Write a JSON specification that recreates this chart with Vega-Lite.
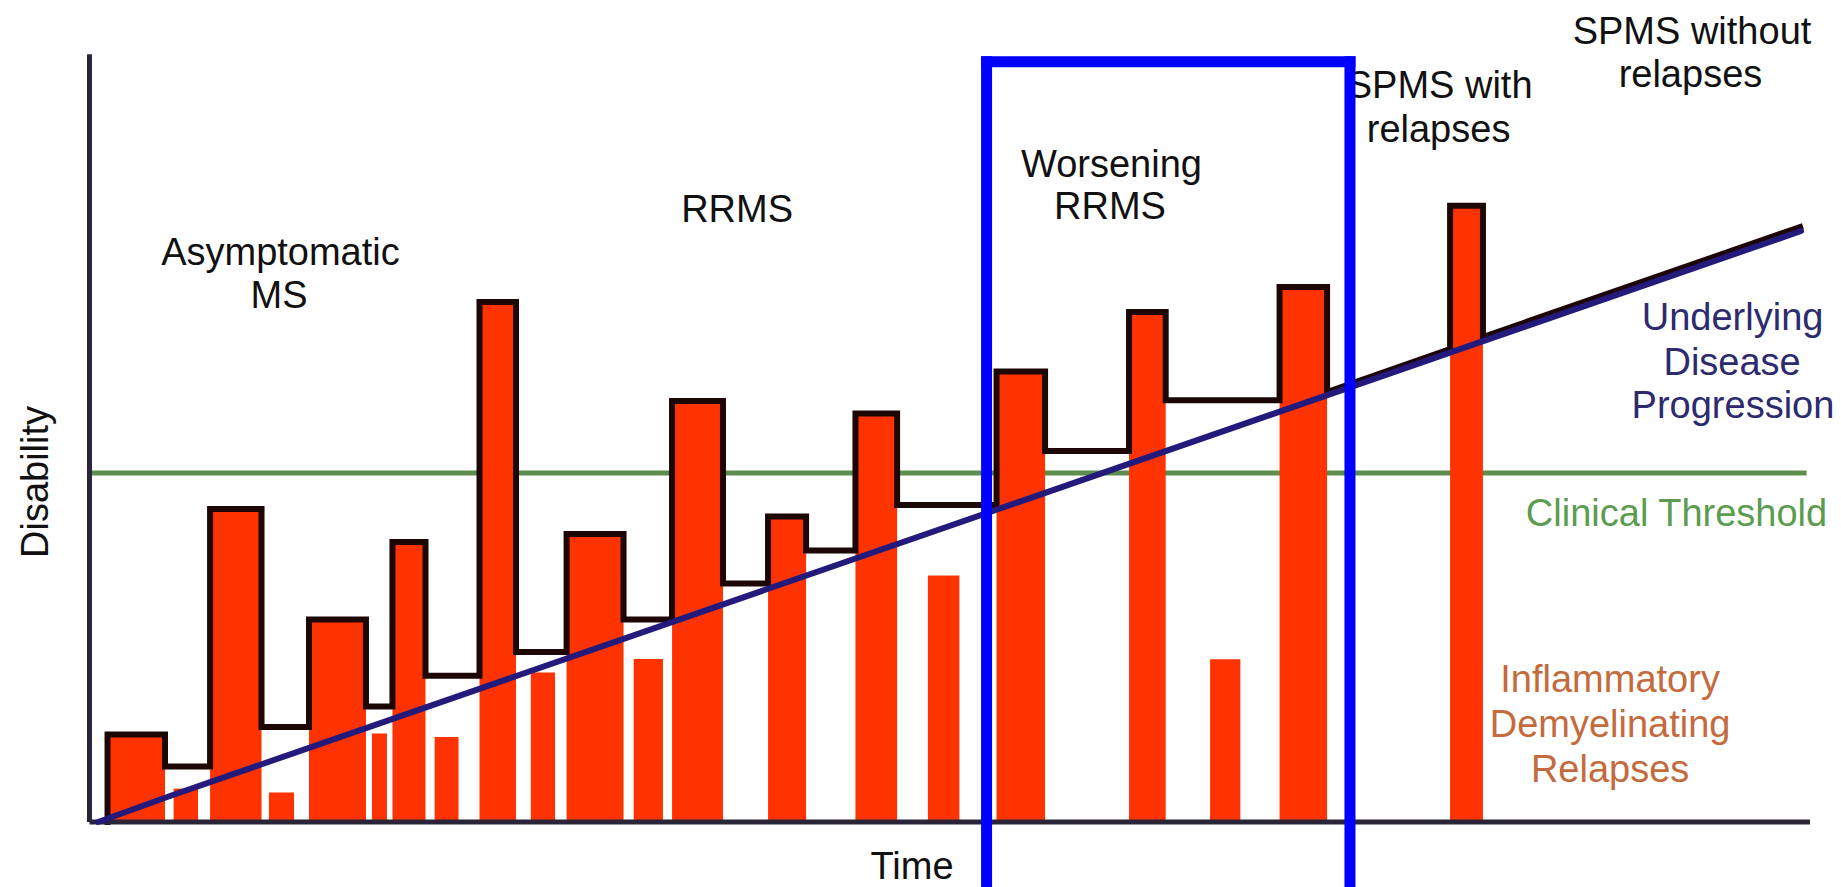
{
  "$schema": "https://vega.github.io/schema/vega-lite/v6.json",
  "width": 1841,
  "height": 887,
  "autosize": {"type": "none"},
  "padding": 0,
  "background": "white",
  "config": {"view": {"stroke": null}},
  "datasets": {
    "threshold": [{"t": 0.1, "t2": 99.8, "d": 45.64}],
    "relapses": [
      {"bar": "A", "t": 1.05, "t2": 4.39, "d": 11.44},
      {"bar": "a1", "t": 4.89, "t2": 6.31, "d": 4.37},
      {"bar": "B", "t": 7.01, "t2": 10.0, "d": 40.93},
      {"bar": "b1", "t": 10.43, "t2": 11.89, "d": 3.86},
      {"bar": "C", "t": 12.76, "t2": 16.07, "d": 26.48},
      {"bar": "c1", "t": 16.42, "t2": 17.29, "d": 11.56},
      {"bar": "D", "t": 17.61, "t2": 19.53, "d": 36.62},
      {"bar": "d1", "t": 20.06, "t2": 21.45, "d": 11.12},
      {"bar": "E", "t": 22.67, "t2": 24.79, "d": 68.0},
      {"bar": "e1", "t": 25.65, "t2": 27.06, "d": 19.55},
      {"bar": "F", "t": 27.73, "t2": 31.04, "d": 37.67},
      {"bar": "f1", "t": 31.63, "t2": 33.33, "d": 21.32},
      {"bar": "G", "t": 33.86, "t2": 36.82, "d": 55.06},
      {"bar": "H", "t": 39.44, "t2": 41.65, "d": 39.95},
      {"bar": "I", "t": 44.52, "t2": 46.94, "d": 53.42},
      {"bar": "i1", "t": 48.73, "t2": 50.56, "d": 32.25},
      {"bar": "J", "t": 52.72, "t2": 55.54, "d": 58.92},
      {"bar": "K", "t": 60.42, "t2": 62.55, "d": 66.7},
      {"bar": "k1", "t": 65.13, "t2": 66.89, "d": 21.28},
      {"bar": "L", "t": 69.17, "t2": 71.93, "d": 69.97},
      {"bar": "M", "t": 79.08, "t2": 80.99, "d": 80.6}
    ],
    "outline": [
      {"i": 1, "t": 1.05, "d": 0},
      {"i": 2, "t": 1.05, "d": 11.44},
      {"i": 3, "t": 4.39, "d": 11.44},
      {"i": 4, "t": 4.39, "d": 7.27},
      {"i": 5, "t": 7.01, "d": 7.27},
      {"i": 6, "t": 7.01, "d": 40.93},
      {"i": 7, "t": 10.0, "d": 40.93},
      {"i": 8, "t": 10.0, "d": 12.42},
      {"i": 9, "t": 12.76, "d": 12.42},
      {"i": 10, "t": 12.76, "d": 26.48},
      {"i": 11, "t": 16.07, "d": 26.48},
      {"i": 12, "t": 16.07, "d": 15.12},
      {"i": 13, "t": 17.61, "d": 15.12},
      {"i": 14, "t": 17.61, "d": 36.62},
      {"i": 15, "t": 19.53, "d": 36.62},
      {"i": 16, "t": 19.53, "d": 19.13},
      {"i": 17, "t": 22.67, "d": 19.13},
      {"i": 18, "t": 22.67, "d": 68.0},
      {"i": 19, "t": 24.79, "d": 68.0},
      {"i": 20, "t": 24.79, "d": 22.23},
      {"i": 21, "t": 27.73, "d": 22.23},
      {"i": 22, "t": 27.73, "d": 37.67},
      {"i": 23, "t": 31.04, "d": 37.67},
      {"i": 24, "t": 31.04, "d": 26.48},
      {"i": 25, "t": 33.86, "d": 26.48},
      {"i": 26, "t": 33.86, "d": 55.06},
      {"i": 27, "t": 36.82, "d": 55.06},
      {"i": 28, "t": 36.82, "d": 31.18},
      {"i": 29, "t": 39.44, "d": 31.18},
      {"i": 30, "t": 39.44, "d": 39.95},
      {"i": 31, "t": 41.65, "d": 39.95},
      {"i": 32, "t": 41.65, "d": 35.52},
      {"i": 33, "t": 44.52, "d": 35.52},
      {"i": 34, "t": 44.52, "d": 53.42},
      {"i": 35, "t": 46.94, "d": 53.42},
      {"i": 36, "t": 46.94, "d": 41.46},
      {"i": 37, "t": 52.72, "d": 41.46},
      {"i": 38, "t": 52.72, "d": 58.92},
      {"i": 39, "t": 55.54, "d": 58.92},
      {"i": 40, "t": 55.54, "d": 48.52},
      {"i": 41, "t": 60.42, "d": 48.52},
      {"i": 42, "t": 60.42, "d": 66.7},
      {"i": 43, "t": 62.55, "d": 66.7},
      {"i": 44, "t": 62.55, "d": 55.14},
      {"i": 45, "t": 69.17, "d": 55.14},
      {"i": 46, "t": 69.17, "d": 69.97},
      {"i": 47, "t": 71.93, "d": 69.97},
      {"i": 48, "t": 71.93, "d": 56.24},
      {"i": 49, "t": 79.08, "d": 61.86},
      {"i": 50, "t": 79.08, "d": 80.6},
      {"i": 51, "t": 80.99, "d": 80.6},
      {"i": 52, "t": 80.99, "d": 63.43},
      {"i": 53, "t": 99.42, "d": 77.81}
    ],
    "axes": [
      {"t": 0, "t2": 0, "d": 0, "d2": 100.4},
      {"t": 0, "t2": 100, "d": 0, "d2": 0}
    ],
    "progression": [
      {"i": 1, "t": 0.5, "d": 0.0},
      {"i": 2, "t": 4.68, "d": 3.4},
      {"i": 3, "t": 99.48, "d": 77.29}
    ],
    "labels": [
      {"label": "Asymptomatic", "t": 11.1, "d": 72.9, "c": "#111111"},
      {"label": "MS", "t": 11.02, "d": 67.22, "c": "#111111"},
      {"label": "RRMS", "t": 37.64, "d": 78.47, "c": "#111111"},
      {"label": "Worsening", "t": 59.4, "d": 84.35, "c": "#111111"},
      {"label": "RRMS", "t": 59.31, "d": 78.82, "c": "#111111"},
      {"label": "SPMS with", "t": 78.47, "d": 94.68, "c": "#111111"},
      {"label": "relapses", "t": 78.41, "d": 88.93, "c": "#111111"},
      {"label": "SPMS without", "t": 93.14, "d": 101.75, "c": "#111111"},
      {"label": "relapses", "t": 93.05, "d": 96.12, "c": "#111111"},
      {"label": "Underlying", "t": 95.5, "d": 64.34, "c": "#2d2a6e"},
      {"label": "Disease", "t": 95.47, "d": 58.46, "c": "#2d2a6e"},
      {"label": "Progression", "t": 95.52, "d": 52.83, "c": "#2d2a6e"},
      {"label": "Clinical Threshold", "t": 92.24, "d": 38.71, "c": "#5c9c50"},
      {"label": "Inflammatory", "t": 88.38, "d": 17.0, "c": "#c56a3c"},
      {"label": "Demyelinating", "t": 88.38, "d": 11.12, "c": "#c56a3c"},
      {"label": "Relapses", "t": 88.38, "d": 5.23, "c": "#c56a3c"},
      {"label": "Time", "t": 47.81, "d": -7.4, "c": "#111111"}
    ],
    "ylabel": [{"label": "Disability", "t": -2.41, "d": 44.47}],
    "frame": [
      {"t": 52.14, "t2": 52.14, "d": -8.5, "d2": 99.44},
      {"t": 73.26, "t2": 73.26, "d": -8.5, "d2": 99.44},
      {"t": 52.14, "t2": 73.26, "d": 99.44, "d2": 99.44}
    ]
  },
  "encoding": {
    "x": {"field": "t", "type": "quantitative", "scale": {"domain": [-5.2, 101.8], "nice": false, "zero": false}, "axis": null},
    "y": {"field": "d", "type": "quantitative", "scale": {"domain": [-8.5, 107.5], "nice": false, "zero": false}, "axis": null}
  },
  "layer": [
    {
      "data": {"name": "threshold"},
      "mark": {"type": "rule", "color": "#5e8e4e", "strokeWidth": 5},
      "encoding": {"x2": {"field": "t2"}}
    },
    {
      "data": {"name": "relapses"},
      "mark": {"type": "rect", "color": "#ff3300"},
      "encoding": {"x2": {"field": "t2"}, "y2": {"datum": 0}}
    },
    {
      "data": {"name": "outline"},
      "mark": {"type": "line", "color": "#1c0606", "strokeWidth": 6, "strokeJoin": "miter", "strokeCap": "square"},
      "encoding": {"order": {"field": "i", "type": "quantitative"}}
    },
    {
      "data": {"name": "axes"},
      "mark": {"type": "rule", "color": "#2a2438", "strokeWidth": 5},
      "encoding": {"x2": {"field": "t2"}, "y2": {"field": "d2"}}
    },
    {
      "data": {"name": "progression"},
      "mark": {"type": "line", "color": "#241a7c", "strokeWidth": 6, "strokeCap": "round"},
      "encoding": {"order": {"field": "i", "type": "quantitative"}}
    },
    {
      "data": {"name": "labels"},
      "mark": {"type": "text", "align": "center", "baseline": "alphabetic", "font": "Liberation Sans", "fontSize": 38},
      "encoding": {
        "text": {"field": "label"},
        "color": {"field": "c", "type": "nominal", "scale": null}
      }
    },
    {
      "data": {"name": "ylabel"},
      "mark": {"type": "text", "align": "center", "baseline": "alphabetic", "font": "Liberation Sans", "fontSize": 38, "angle": 270, "color": "#111111"},
      "encoding": {"text": {"field": "label"}}
    },
    {
      "data": {"name": "frame"},
      "mark": {"type": "rule", "color": "#0000ff", "strokeWidth": 11, "strokeCap": "square"},
      "encoding": {"x2": {"field": "t2"}, "y2": {"field": "d2"}}
    }
  ]
}
